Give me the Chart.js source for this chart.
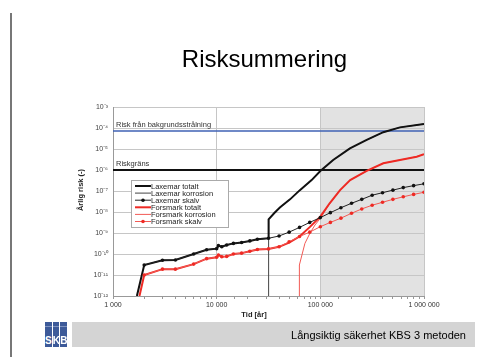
<!DOCTYPE html>
<html>
<head>
<meta charset="utf-8">
<script src="https://cdn.jsdelivr.net/npm/chart.js@4.4.1/dist/chart.umd.min.js"></script>
<style>
  html,body{margin:0;padding:0;background:#fff;}
  body{width:500px;height:358px;position:relative;overflow:hidden;font-family:"Liberation Sans",Arial,sans-serif;}
  #c{position:absolute;left:0;top:0;}
  .vline{position:absolute;left:10px;top:13px;width:1.5px;height:344px;background:#777;}
  .title{position:absolute;left:0;width:529px;top:47px;height:24px;line-height:24px;text-align:center;font-size:24px;color:#000;}
  .footer{position:absolute;left:72px;top:322px;width:403px;height:25px;background:#d4d4d4;}
  .footer span{position:absolute;right:9px;top:7px;font-size:11px;line-height:12px;color:#000;}
  .logo{position:absolute;left:45px;top:322px;width:22px;height:25px;display:flex;gap:1px;}
  .logo div{flex:1;background:#3d5a99;color:#fff;font-weight:bold;font-size:10px;line-height:10px;text-align:center;position:relative;}
  .logo div b{position:absolute;left:0;right:0;bottom:1px;}
  .logo div i{position:absolute;left:0;right:0;top:4px;height:1px;background:#7f93c0;}
</style>
</head>
<body>
<canvas id="c" width="500" height="358"></canvas>
<div class="vline"></div>
<div class="title">Risksummering</div>
<div class="logo"><div><i></i><b>S</b></div><div><i></i><b>K</b></div><div><i></i><b>B</b></div></div>
<div class="footer"><span>Långsiktig säkerhet KBS 3 metoden</span></div>
<script>
// ---- data ----
const xTickValues = [1000, 10000, 100000, 1000000];
const xTickLabels = ['1 000', '10 000', '100 000', '1 000 000'];
const yTickExponents = [-3, -4, -5, -6, -7, -8, -9, -10, -11, -12];

const seriesNames = ['Laxemar totalt', 'Laxemar korrosion', 'Laxemar skalv',
                     'Forsmark totalt', 'Forsmark korrosion', 'Forsmark skalv'];

const laxTotT = [1700, 2000, 3000, 4000, 6000, 8000, 10000, 10400, 11200, 12500, 14500, 17400, 20900, 24700, 31600, 31700, 36000, 40700, 51000, 63500, 82400, 100000, 133000, 193000, 280000, 405000, 586000, 1000000];
const laxTotV = [1e-12, 3e-11, 5e-11, 5.2e-11, 1e-10, 1.6e-10, 1.8e-10, 2.5e-10, 2.2e-10, 2.7e-10, 3.2e-10, 3.5e-10, 4.2e-10, 5e-10, 5.6e-10, 4.5e-9, 9e-9, 1.65e-8, 4e-8, 1.1e-7, 3.3e-7, 9e-7, 3e-6, 1.07e-5, 2.7e-5, 6.3e-5, 1.07e-4, 1.55e-4];

const laxKorT = [31600, 31700, 36000, 40700, 51000, 63500, 82400, 100000, 133000, 193000, 280000, 405000, 586000, 1000000];
const laxKorV = [1e-12, 4.5e-9, 9e-9, 1.65e-8, 4e-8, 1.1e-7, 3.3e-7, 9e-7, 3e-6, 1.07e-5, 2.7e-5, 6.3e-5, 1.07e-4, 1.55e-4];

const laxSkaT = [2000, 3000, 4000, 6000, 8000, 10000, 10400, 11200, 12500, 14500, 17400, 20900, 24700, 31600, 40000, 50000, 63000, 79000, 100000, 125000, 158000, 200000, 251000, 316000, 398000, 501000, 631000, 794000, 1000000];
const laxSkaV = [3e-11, 5e-11, 5.2e-11, 1e-10, 1.6e-10, 1.8e-10, 2.5e-10, 2.2e-10, 2.7e-10, 3.2e-10, 3.5e-10, 4.2e-10, 5e-10, 5.6e-10, 7.2e-10, 1.1e-9, 1.85e-9, 3.2e-9, 5.4e-9, 9.3e-9, 1.6e-8, 2.6e-8, 4e-8, 6.3e-8, 8.3e-8, 1.1e-7, 1.45e-7, 1.8e-7, 2.2e-7];

const forTotT = [1800, 2000, 3000, 4000, 6000, 8000, 10000, 10400, 11200, 12500, 14500, 17400, 20900, 24700, 31600, 40000, 50000, 63000, 79000, 100000, 123000, 155000, 194000, 280000, 405000, 586000, 850000, 1000000];
const forTotV = [1e-12, 1e-11, 1.9e-11, 1.9e-11, 3.3e-11, 6e-11, 7e-11, 9e-11, 7.4e-11, 7.7e-11, 1e-10, 1.1e-10, 1.35e-10, 1.65e-10, 1.75e-10, 2.2e-10, 3.5e-10, 6.8e-10, 1.9e-9, 6e-9, 2.6e-8, 1.1e-7, 3.3e-7, 9e-7, 2.1e-6, 3e-6, 4.3e-6, 5.6e-6];

const forKorT = [62700, 62800, 71000, 79400, 88800, 100000, 123000, 155000, 194000, 280000, 405000, 586000, 850000, 1000000];
const forKorV = [1e-12, 3e-11, 3.2e-10, 9.8e-10, 2.4e-9, 5e-9, 2.5e-8, 1.1e-7, 3.3e-7, 9e-7, 2.1e-6, 3e-6, 4.3e-6, 5.6e-6];

const forSkaT = [2000, 3000, 4000, 6000, 8000, 10000, 10400, 11200, 12500, 14500, 17400, 20900, 24700, 31600, 40000, 50000, 63000, 79000, 100000, 125000, 158000, 200000, 251000, 316000, 398000, 501000, 631000, 794000, 1000000];
const forSkaV = [1e-11, 1.9e-11, 1.9e-11, 3.3e-11, 6e-11, 7e-11, 9e-11, 7.4e-11, 7.7e-11, 1e-10, 1.1e-10, 1.35e-10, 1.65e-10, 1.75e-10, 2.2e-10, 3.8e-10, 6.8e-10, 1.1e-9, 2e-9, 3.2e-9, 5.1e-9, 8.7e-9, 1.4e-8, 2.1e-8, 2.9e-8, 4e-8, 5.3e-8, 6.9e-8, 8.7e-8];

const refLineX = [1000, 1000000];
const bgRisk = 7.2e-5;       // Risk från bakgrundsstrålning
const riskLimit = 1e-6;      // Riskgräns
const refLabels = ['Risk från bakgrundsstrålning', 'Riskgräns'];
const shadeRange = [100000, 1000000];
const xTitle = 'Tid [år]';
const yTitle = 'Årlig risk (-)';

// ---- helpers ----
const pts = (t, v) => t.map((x, i) => ({x: x, y: v[i]}));
const SUP = {'-': '⁻', '0': '⁰', '1': '¹', '2': '²', '3': '³', '4': '⁴', '5': '⁵', '6': '⁶', '7': '⁷', '8': '⁸', '9': '⁹'};
const supStr = n => String(n).split('').map(c => SUP[c]).join('');
const isDecade = v => { const l = Math.log10(v); return Math.abs(l - Math.round(l)) < 1e-6; };
const FONT = "'Liberation Sans', Arial, sans-serif";
const BLACK = '#111', RED = '#ee2a24', RED_THIN = '#f25a55';

const datasets = [
  {label: seriesNames[2], data: pts(laxSkaT, laxSkaV), borderColor: '#222', backgroundColor: '#111', borderWidth: 1, pointRadius: 1.8, pointBorderWidth: 0, order: 1, legendMarker: true},
  {label: seriesNames[5], data: pts(forSkaT, forSkaV), borderColor: RED_THIN, backgroundColor: RED, borderWidth: 1, pointRadius: 1.8, pointBorderWidth: 0, order: 1, legendMarker: true},
  {label: seriesNames[0], data: pts(laxTotT, laxTotV), borderColor: BLACK, borderWidth: 2, pointRadius: 0, order: 2},
  {label: seriesNames[3], data: pts(forTotT, forTotV), borderColor: RED, borderWidth: 2, pointRadius: 0, order: 2},
  {label: seriesNames[1], data: pts(laxKorT, laxKorV), borderColor: '#444', borderWidth: 1, pointRadius: 0, order: 3},
  {label: seriesNames[4], data: pts(forKorT, forKorV), borderColor: RED_THIN, borderWidth: 1, pointRadius: 0, order: 3},
  {label: refLabels[0], data: refLineX.map(x => ({x: x, y: bgRisk})), borderColor: '#3f62b4', borderWidth: 1.5, pointRadius: 0, order: 4, ref: true},
  {label: refLabels[1], data: refLineX.map(x => ({x: x, y: riskLimit})), borderColor: '#111', borderWidth: 2, pointRadius: 0, order: 4, ref: true}
];

const decorPlugin = {
  id: 'decor',
  beforeDraw(chart) {
    const {ctx, chartArea: a, scales: {x}} = chart;
    const x0 = x.getPixelForValue(shadeRange[0]), x1 = x.getPixelForValue(shadeRange[1]);
    ctx.save();
    ctx.fillStyle = '#e2e2e2';
    ctx.fillRect(x0, a.top, x1 - x0, a.bottom - a.top);
    ctx.restore();
  },
  afterDraw(chart) {
    const {ctx, chartArea: a, scales: {x, y}} = chart;
    ctx.save();
    // reference line labels
    ctx.fillStyle = '#333';
    ctx.font = '7.5px ' + FONT;
    ctx.textBaseline = 'alphabetic';
    ctx.textAlign = 'left';
    ctx.fillText(refLabels[0], a.left + 3, y.getPixelForValue(bgRisk) - 4);
    ctx.fillText(refLabels[1], a.left + 3, y.getPixelForValue(riskLimit) - 4);
    // axis titles
    ctx.fillStyle = '#222';
    ctx.font = 'bold 7.5px ' + FONT;
    ctx.textAlign = 'center';
    ctx.textBaseline = 'middle';
    ctx.fillText(xTitle, 254, 315);
    ctx.translate(81, 190);
    ctx.rotate(-Math.PI / 2);
    ctx.fillText(yTitle, 0, 0);
    ctx.restore();

    // legend box
    ctx.save();
    const bx = 131, by = 180, bw = 97, bh = 47;
    ctx.fillStyle = '#fff';
    ctx.fillRect(bx, by, bw, bh);
    ctx.strokeStyle = '#aaa';
    ctx.lineWidth = 1;
    ctx.strokeRect(bx + 0.5, by + 0.5, bw, bh);
    ctx.font = '7.5px ' + FONT;
    ctx.textAlign = 'left';
    ctx.textBaseline = 'middle';
    seriesNames.forEach((name, i) => {
      const ds = chart.data.datasets.find(d => d.label === name);
      const ry = by + 6 + i * 7.1;
      ctx.strokeStyle = ds.borderColor;
      ctx.lineWidth = ds.borderWidth;
      ctx.beginPath();
      ctx.moveTo(bx + 4, ry);
      ctx.lineTo(bx + 20, ry);
      ctx.stroke();
      if (ds.legendMarker) {
        ctx.fillStyle = ds.backgroundColor;
        ctx.beginPath();
        ctx.arc(bx + 12, ry, 1.8, 0, Math.PI * 2);
        ctx.fill();
      }
      ctx.fillStyle = '#222';
      ctx.fillText(name, bx + 20, ry + 0.5);
    });
    ctx.restore();
  }
};

new Chart(document.getElementById('c'), {
  type: 'line',
  data: {datasets: datasets},
  plugins: [decorPlugin],
  options: {
    responsive: false,
    animation: false,
    devicePixelRatio: 1,
    layout: {padding: {top: 107, right: 76, bottom: 42, left: 0}},
    plugins: {legend: {display: false}, tooltip: {enabled: false}},
    elements: {line: {tension: 0}},
    scales: {
      x: {
        type: 'logarithmic', min: xTickValues[0], max: xTickValues[xTickValues.length - 1],
        afterFit(s) { s.height = 20; },
        border: {display: true, color: '#999'},
        grid: {
          color: c => isDecade(c.tick.value) ? '#c6c6c6' : 'rgba(0,0,0,0)',
          tickColor: '#999', tickLength: 3, drawTicks: true
        },
        ticks: {
          autoSkip: false, maxRotation: 0, padding: 2, color: '#333',
          font: {size: 7, family: FONT},
          callback: v => { const i = xTickValues.findIndex(t => Math.abs(t - v) / t < 1e-6); return i >= 0 ? xTickLabels[i] : ''; }
        }
      },
      y: {
        type: 'logarithmic', min: Math.pow(10, yTickExponents[yTickExponents.length - 1]), max: Math.pow(10, yTickExponents[0]),
        afterFit(s) { s.width = 113; },
        border: {display: true, color: '#999'},
        grid: {
          color: c => isDecade(c.tick.value) ? '#c6c6c6' : 'rgba(0,0,0,0)',
          drawTicks: false
        },
        ticks: {
          autoSkip: false, padding: 5, color: '#444',
          font: {size: 7, family: FONT},
          callback: v => {
            if (!isDecade(v)) return '';
            const e = Math.round(Math.log10(v));
            return yTickExponents.includes(e) ? '10' + supStr(e) : '';
          }
        }
      }
    }
  }
});
</script>
</body>
</html>
